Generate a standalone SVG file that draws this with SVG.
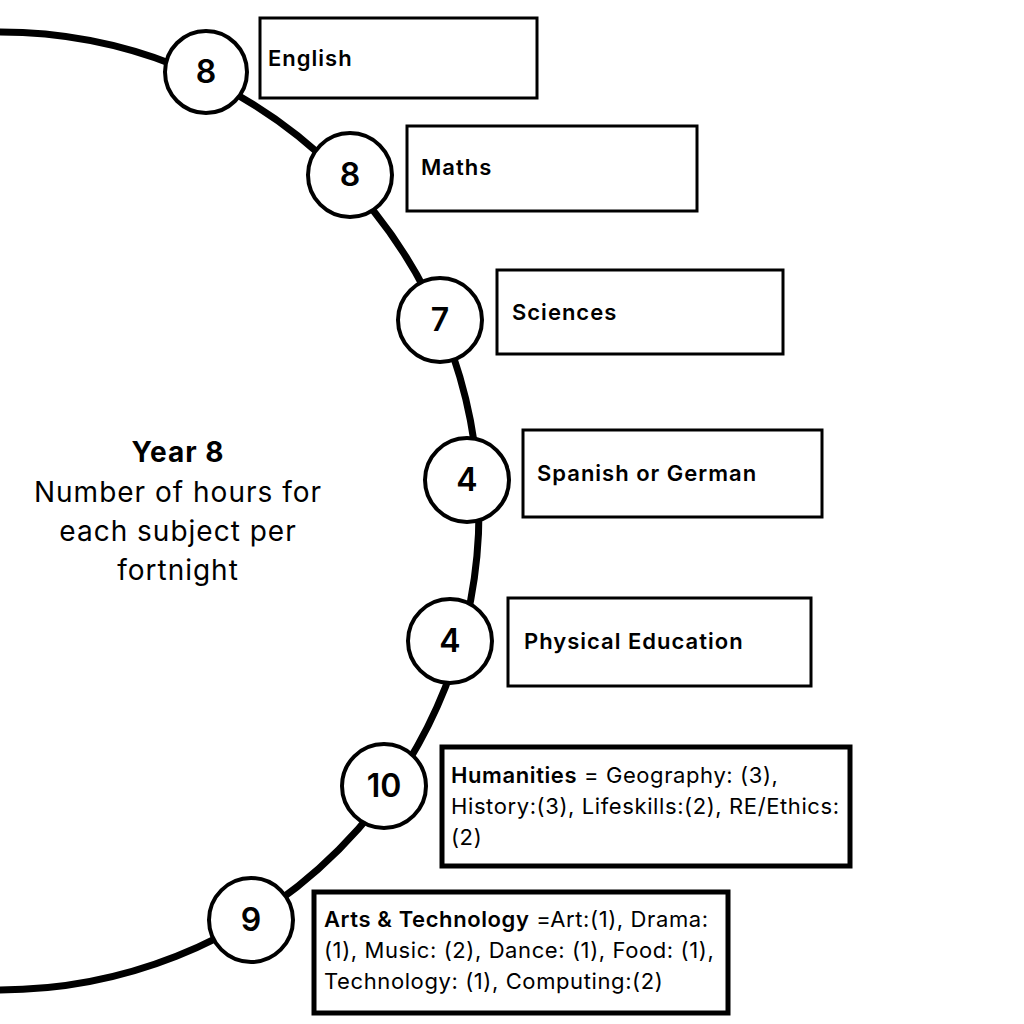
<svg xmlns="http://www.w3.org/2000/svg" width="1024" height="1024" viewBox="0 0 1024 1024">
<style>
.bg{fill:#ffffff}
.arc{fill:none;stroke:#000;stroke-width:7}
.num{fill:#fff;stroke:#000;stroke-width:4}
.numt{font-family:Inter,"Liberation Sans",sans-serif;font-weight:600;font-size:32px;text-anchor:middle;fill:#000}
.box{fill:#fff;stroke:#000;stroke-width:3}
.box2{fill:#fff;stroke:#000;stroke-width:5}
.lbl{font-family:Inter,"Liberation Sans",sans-serif;font-weight:600;font-size:22px;letter-spacing:1px;fill:#000}
.body{font-family:Inter,"Liberation Sans",sans-serif;font-weight:400;font-size:22px;letter-spacing:0.6px;fill:#000}
.b{font-weight:600}
.title{font-family:Inter,"Liberation Sans",sans-serif;font-size:28px;letter-spacing:1px;text-anchor:middle;fill:#000}
</style>
<rect class="bg" x="0" y="0" width="1024" height="1024"/>
<g id="connectors">
<path class="arc" d="M 0 32 A 479 479 0 1 1 0 990"/>
</g>
<g id="title">
<text class="title" x="178" y="462" font-weight="700">Year 8</text>
<text class="title" x="178" y="502">Number of hours for</text>
<text class="title" x="178" y="541">each subject per</text>
<text class="title" x="178" y="580">fortnight</text>
</g>
<g id="english">
<circle class="num" cx="206" cy="72" r="41"/>
<text class="numt" x="206" y="83">8</text>
<rect class="box" x="260" y="18" width="277" height="80"/>
<text class="lbl" x="268" y="66">English</text>
</g>
<g id="maths">
<circle class="num" cx="350" cy="175" r="42"/>
<text class="numt" x="350" y="186">8</text>
<rect class="box" x="407" y="126" width="290" height="85"/>
<text class="lbl" x="421" y="175">Maths</text>
</g>
<g id="sciences">
<circle class="num" cx="440" cy="320" r="42"/>
<text class="numt" x="440" y="331">7</text>
<rect class="box" x="497" y="270" width="286" height="84"/>
<text class="lbl" x="512" y="320">Sciences</text>
</g>
<g id="languages">
<circle class="num" cx="467" cy="480" r="42"/>
<text class="numt" x="467" y="491">4</text>
<rect class="box" x="523" y="430" width="299" height="87"/>
<text class="lbl" x="537" y="481">Spanish or German</text>
</g>
<g id="pe">
<circle class="num" cx="450" cy="641" r="42"/>
<text class="numt" x="450" y="652">4</text>
<rect class="box" x="508" y="598" width="303" height="88"/>
<text class="lbl" x="524" y="649">Physical Education</text>
</g>
<g id="humanities">
<circle class="num" cx="384" cy="786" r="42"/>
<text class="numt" x="384" y="797">10</text>
<rect class="box2" x="442" y="747" width="408" height="119"/>
<text class="body" x="451" y="783"><tspan class="b">Humanities</tspan> = Geography: (3),</text>
<text class="body" x="451" y="814">History:(3), Lifeskills:(2), RE/Ethics:</text>
<text class="body" x="451" y="845">(2)</text>
</g>
<g id="arts">
<circle class="num" cx="251" cy="920" r="42"/>
<text class="numt" x="251" y="931">9</text>
<rect class="box2" x="314" y="892" width="414" height="121"/>
<text class="body" x="324" y="927"><tspan class="b">Arts &amp; Technology</tspan> =Art:(1), Drama:</text>
<text class="body" x="324" y="958">(1), Music: (2), Dance: (1), Food: (1),</text>
<text class="body" x="324" y="989">Technology: (1), Computing:(2)</text>
</g>
</svg>
